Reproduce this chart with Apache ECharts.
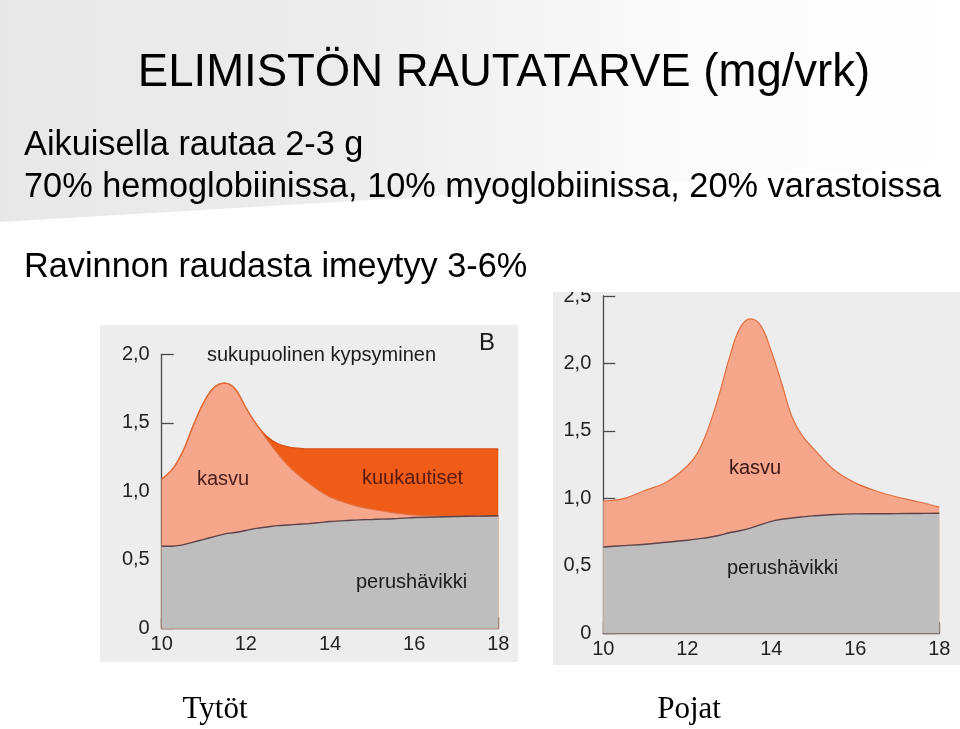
<!DOCTYPE html>
<html>
<head>
<meta charset="utf-8">
<script src="https://cdn.jsdelivr.net/npm/echarts@6/dist/echarts.min.js"></script>
<style>
html,body{margin:0;padding:0;background:#fff;}
#c{width:960px;height:729px;}
</style>
</head>
<body>
<div id="c"></div>
<script>
// ---- Data (mg/vrk) ----
// Tytöt (girls)
const agesGirls = [10, 10.25, 10.5, 10.75, 11, 11.25, 11.5, 11.75, 12, 12.25, 12.5, 12.75, 13, 13.25, 13.5, 13.75, 14, 14.25, 14.5, 14.75, 15, 15.25, 15.5, 15.75, 16, 16.5, 17, 17.5, 18];
const perushavikkiGirls = [0.60, 0.60, 0.61, 0.63, 0.65, 0.67, 0.69, 0.70, 0.715, 0.73, 0.74, 0.75, 0.755, 0.76, 0.765, 0.772, 0.78, 0.785, 0.79, 0.793, 0.795, 0.798, 0.80, 0.805, 0.81, 0.813, 0.817, 0.82, 0.822];
const kasvuTopGirls = [1.09, 1.16, 1.29, 1.48, 1.65, 1.76, 1.79, 1.745, 1.61, 1.49, 1.38, 1.28, 1.19, 1.12, 1.06, 1.005, 0.96, 0.93, 0.905, 0.885, 0.87, 0.857, 0.845, 0.835, 0.828, 0.822, 0.82, 0.821, 0.822];
const kuukautisetTopGirls = [1.09, 1.16, 1.29, 1.48, 1.65, 1.76, 1.79, 1.745, 1.61, 1.49, 1.40, 1.35, 1.325, 1.315, 1.31, 1.31, 1.31, 1.31, 1.31, 1.31, 1.31, 1.31, 1.31, 1.31, 1.31, 1.31, 1.31, 1.31, 1.31];
// Pojat (boys)
const agesBoys = [10, 10.5, 11, 11.5, 12, 12.25, 12.5, 12.75, 13, 13.25, 13.5, 13.75, 14, 14.25, 14.5, 14.75, 15, 15.5, 16, 16.5, 17, 17.5, 18];
const perushavikkiBoys = [0.64, 0.65, 0.66, 0.675, 0.69, 0.70, 0.71, 0.725, 0.745, 0.76, 0.78, 0.805, 0.83, 0.845, 0.855, 0.863, 0.87, 0.88, 0.885, 0.886, 0.887, 0.888, 0.89];
const kasvuTopBoys = [0.98, 1.00, 1.06, 1.12, 1.24, 1.34, 1.52, 1.76, 2.04, 2.26, 2.33, 2.28, 2.09, 1.85, 1.60, 1.46, 1.37, 1.21, 1.115, 1.055, 1.01, 0.975, 0.935];
// Axis ticks
const xTicks = [10, 12, 14, 16, 18];
const yTickStep = 0.5;

const pairs = (xs, ys) => xs.map((x, i) => [x, ys[i]]);
const fmtY = v => v === 0 ? '0' : v.toFixed(1).replace('.', ',');

const chart = echarts.init(document.getElementById('c'), null, {renderer: 'canvas'});

const FONT = 'Liberation Sans, Arial, Helvetica, sans-serif';
const SERIF = 'Liberation Serif, Times New Roman, serif';
const axisColor = '#4a4a4a';
const labelStyle = {color: '#222', fontSize: 20, fontFamily: FONT};

function xAxis(gi) {
  return {
    type: 'value', gridIndex: gi, min: xTicks[0], max: xTicks[xTicks.length - 1], interval: 2,
    axisLine: {show: true, lineStyle: {color: axisColor, width: 1.3}},
    axisTick: {show: true, inside: true, length: 11, lineStyle: {color: axisColor, width: 1.3}},
    axisLabel: Object.assign({margin: 6}, labelStyle),
    splitLine: {show: false}
  };
}
function yAxis(gi, max) {
  return {
    type: 'value', gridIndex: gi, min: 0, max: max, interval: yTickStep,
    axisLine: {show: true, lineStyle: {color: axisColor, width: 1.3}},
    axisTick: {show: true, inside: true, length: 12, lineStyle: {color: axisColor, width: 1.3}},
    axisLabel: Object.assign({margin: 12, formatter: fmtY}, labelStyle),
    splitLine: {show: false}
  };
}
function area(name, xs, ys, gi, fill, line, lw) {
  return {
    name: name, type: 'line', xAxisIndex: gi, yAxisIndex: gi,
    data: pairs(xs, ys), smooth: 0.4, symbol: 'none',
    lineStyle: {color: line, width: lw},
    areaStyle: {color: fill, opacity: 1},
    silent: true, animation: false
  };
}

const cSalmon = '#f5a68b';
const cOrange = '#ef5c17';
const cGray = '#bebebe';

const option = {
  backgroundColor: '#ffffff',
  animation: false,
  grid: [
    {left: 161.7, right: 960 - 498.3, top: 354.3, bottom: 729 - 628.5},
    {left: 603.3, right: 960 - 939.3, top: 296, bottom: 729 - 633.3}
  ],
  xAxis: [xAxis(0), xAxis(1)],
  yAxis: [yAxis(0, 2.0), yAxis(1, 2.5)],
  series: [
    area('kuukautiset', agesGirls, kuukautisetTopGirls, 0, cOrange, '#d94e14', 1.2),
    area('kasvu', agesGirls, kasvuTopGirls, 0, cSalmon, '#e2703f', 1.2),
    area('perushävikki', agesGirls, perushavikkiGirls, 0, cGray, '#5d4349', 1.4),
    area('kasvu', agesBoys, kasvuTopBoys, 1, cSalmon, '#e2703f', 1.2),
    area('perushävikki', agesBoys, perushavikkiBoys, 1, cGray, '#5d4349', 1.4)
  ],
  graphic: [
    // slide background swoosh
    {type: 'polygon', z: -20, silent: true,
      shape: {points: [[0, 0], [960, 0], [960, 165], [0, 222]]},
      style: {fill: new echarts.graphic.LinearGradient(0, 0, 1, 0, [
        {offset: 0, color: '#e8e8e8'}, {offset: 0.35, color: '#ececec'}, {offset: 0.65, color: '#f9f9f9'}, {offset: 1, color: '#ffffff'}])}},
    // scanned figure backgrounds
    {type: 'rect', z: -10, silent: true, shape: {x: 100, y: 325, width: 418, height: 337}, style: {fill: '#ededed'}},
    {type: 'rect', z: -10, silent: true, shape: {x: 553, y: 292, width: 407, height: 373}, style: {fill: '#ededed'}},
    // crop of top of right scan
    {type: 'rect', z: 100, silent: true, shape: {x: 553, y: 270, width: 120, height: 22}, style: {fill: '#ffffff'}},
    // titles
    {type: 'text', z: 100, style: {text: 'ELIMISTÖN RAUTATARVE (mg/vrk)', x: 504, y: 73, textAlign: 'center', textVerticalAlign: 'middle', font: '45.5px ' + FONT, fill: '#000'}},
    {type: 'text', z: 100, style: {text: 'Aikuisella rautaa 2-3 g', x: 24, y: 146, textVerticalAlign: 'middle', font: '34.3px ' + FONT, fill: '#000'}},
    {type: 'text', z: 100, style: {text: '70% hemoglobiinissa, 10% myoglobiinissa, 20% varastoissa', x: 24, y: 188, textVerticalAlign: 'middle', font: '34.3px ' + FONT, fill: '#000'}},
    {type: 'text', z: 100, style: {text: 'Ravinnon raudasta imeytyy 3-6%', x: 24, y: 268, textVerticalAlign: 'middle', font: '34.3px ' + FONT, fill: '#000'}},
    // in-chart labels (left)
    {type: 'text', z: 100, style: {text: 'sukupuolinen kypsyminen', x: 207, y: 355, textVerticalAlign: 'middle', font: '20px ' + FONT, fill: '#1a1a1a'}},
    {type: 'text', z: 100, style: {text: 'B', x: 479, y: 343, textVerticalAlign: 'middle', font: '24px ' + FONT, fill: '#1a1a1a'}},
    {type: 'text', z: 100, style: {text: 'kasvu', x: 197, y: 479, textVerticalAlign: 'middle', font: '20px ' + FONT, fill: '#4a1c1c'}},
    {type: 'text', z: 100, style: {text: 'kuukautiset', x: 362, y: 478, textVerticalAlign: 'middle', font: '20px ' + FONT, fill: '#5a1a12'}},
    {type: 'text', z: 100, style: {text: 'perushävikki', x: 356, y: 582, textVerticalAlign: 'middle', font: '20px ' + FONT, fill: '#1a1a1a'}},
    // in-chart labels (right)
    {type: 'text', z: 100, style: {text: 'kasvu', x: 729, y: 468, textVerticalAlign: 'middle', font: '20px ' + FONT, fill: '#3a1515'}},
    {type: 'text', z: 100, style: {text: 'perushävikki', x: 727, y: 568, textVerticalAlign: 'middle', font: '20px ' + FONT, fill: '#1a1a1a'}},
    // captions
    {type: 'text', z: 100, style: {text: 'Tytöt', x: 215, y: 710, textAlign: 'center', textVerticalAlign: 'middle', font: '31px ' + SERIF, fill: '#000'}},
    {type: 'text', z: 100, style: {text: 'Pojat', x: 689, y: 710, textAlign: 'center', textVerticalAlign: 'middle', font: '31px ' + SERIF, fill: '#000'}}
  ]
};
chart.setOption(option);
</script>
</body>
</html>
